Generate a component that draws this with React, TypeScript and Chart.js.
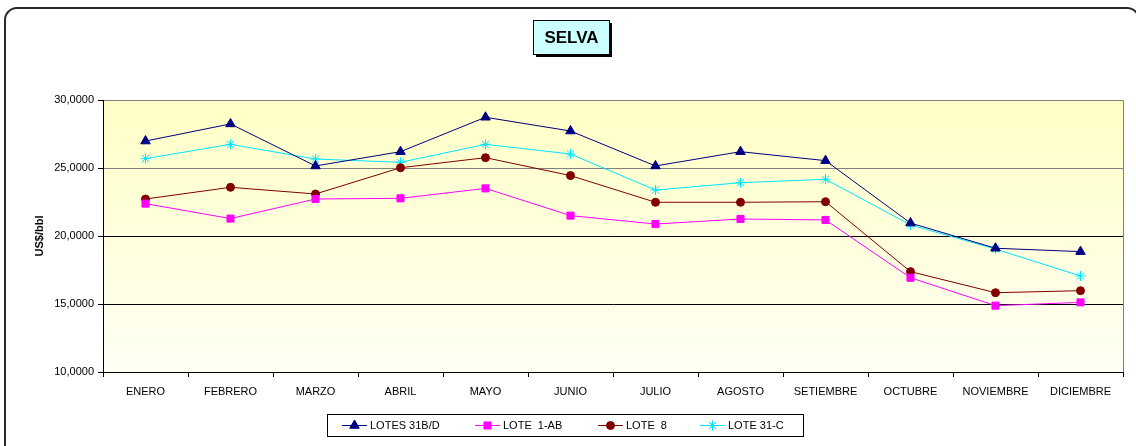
import React, { useEffect, useRef } from "react";
import { Chart, registerables } from "chart.js";
import { drawPoint } from "chart.js/helpers";

Chart.register(...registerables);

const months = ["ENERO", "FEBRERO", "MARZO", "ABRIL", "MAYO", "JUNIO", "JULIO", "AGOSTO", "SETIEMBRE", "OCTUBRE", "NOVIEMBRE", "DICIEMBRE"];
const lotes31BD = [26.98, 28.24, 25.15, 26.2, 28.73, 27.72, 25.15, 26.2, 25.54, 20.95, 19.1, 18.85];
const lote1AB = [22.38, 21.28, 22.72, 22.77, 23.5, 21.5, 20.88, 21.25, 21.18, 16.93, 14.88, 15.12];
const lote8 = [22.72, 23.58, 23.09, 25.02, 25.76, 24.44, 22.48, 22.48, 22.52, 17.38, 15.83, 15.98];
const lote31C = [25.69, 26.74, 25.66, 25.42, 26.74, 26.03, 23.38, 23.92, 24.17, 20.81, 19.04, 17.06];
const seriesNames = ["LOTES 31B/D", "LOTE  1-AB", "LOTE  8", "LOTE 31-C"];
const yTicks = [10, 15, 20, 25, 30];
const titleText = "SELVA";
const yTitle = "US$/bbl";

const FONT = "'Liberation Sans', Arial, sans-serif";

const decorPlugin = {
  id: "decor",
  beforeDraw(chart: any) {
    const { ctx, chartArea } = chart;
    ctx.save();
    ctx.fillStyle = "#ffffff";
    ctx.fillRect(0, 0, chart.width, chart.height);
    // outer frame
    ctx.strokeStyle = "#2b2b2b";
    ctx.lineWidth = 2;
    const x0 = 5, y0 = 8, x1 = 1139, y1 = 458, r = 12;
    ctx.beginPath();
    ctx.moveTo(x0 + r, y0);
    ctx.lineTo(x1 - r, y0);
    ctx.arcTo(x1, y0, x1, y0 + r, r);
    ctx.lineTo(x1, y1 - r);
    ctx.arcTo(x1, y1, x1 - r, y1, r);
    ctx.lineTo(x0 + r, y1);
    ctx.arcTo(x0, y1, x0, y1 - r, r);
    ctx.lineTo(x0, y0 + r);
    ctx.arcTo(x0, y0, x0 + r, y0, r);
    ctx.stroke();
    // plot background gradient
    const g = ctx.createLinearGradient(0, chartArea.top, 0, chartArea.bottom);
    g.addColorStop(0, "#ffffc6");
    g.addColorStop(1, "#fffff4");
    ctx.fillStyle = g;
    ctx.fillRect(chartArea.left, chartArea.top, chartArea.right - chartArea.left, chartArea.bottom - chartArea.top);
    // top & right border
    ctx.strokeStyle = "#808080";
    ctx.lineWidth = 1;
    ctx.beginPath();
    ctx.moveTo(chartArea.left, chartArea.top + 0.5);
    ctx.lineTo(chartArea.right + 0.5, chartArea.top + 0.5);
    ctx.lineTo(chartArea.right + 0.5, chartArea.bottom);
    ctx.stroke();
    ctx.restore();
  },
  afterDraw(chart: any) {
    const { ctx } = chart;
    ctx.save();
    // title box
    const bx = 533, by = 20, bw = 76, bh = 34;
    ctx.fillStyle = "#000000";
    ctx.fillRect(bx + 3, by + 3, bw, bh);
    ctx.fillStyle = "#ccffff";
    ctx.fillRect(bx, by, bw, bh);
    ctx.strokeStyle = "#000000";
    ctx.lineWidth = 1;
    ctx.strokeRect(bx + 0.5, by + 0.5, bw, bh);
    ctx.fillStyle = "#000000";
    ctx.font = `bold 17px ${FONT}`;
    ctx.textAlign = "center";
    ctx.textBaseline = "middle";
    ctx.fillText(titleText, bx + bw / 2 + 0.5, by + bh / 2 + 1);
    // legend
    const lx = 327, ly = 414, lw = 476, lh = 22;
    ctx.fillStyle = "#ffffff";
    ctx.fillRect(lx, ly, lw, lh);
    ctx.strokeStyle = "#000000";
    ctx.strokeRect(lx + 0.5, ly + 0.5, lw, lh);
    const starts = [342, 475, 598, 700];
    const cy = ly + lh / 2 + 0.5;
    chart.data.datasets.forEach((ds: any, i: number) => {
      const sx = starts[i];
      ctx.strokeStyle = ds.borderColor;
      ctx.lineWidth = 1;
      ctx.beginPath();
      ctx.moveTo(sx, cy);
      ctx.lineTo(sx + 25, cy);
      ctx.stroke();
      ctx.fillStyle = ds.pointBackgroundColor;
      ctx.strokeStyle = ds.pointBorderColor;
      drawPoint(ctx, { pointStyle: ds.pointStyle, radius: ds.pointRadius, borderWidth: 1, rotation: 0 }, sx + 12.5, cy);
      ctx.fillStyle = "#000000";
      ctx.font = `11px ${FONT}`;
      ctx.textAlign = "left";
      ctx.textBaseline = "middle";
      ctx.fillText(ds.label, sx + 28, cy);
    });
    ctx.restore();
  },
};

export default function App() {
  const ref = useRef<HTMLCanvasElement>(null);
  useEffect(() => {
    document.body.style.margin = "0";
    document.body.style.overflow = "hidden";
    const mk = (label: string, data: number[], color: string, style: string, radius: number) => ({
      label,
      data,
      borderColor: color,
      backgroundColor: color,
      pointBackgroundColor: color,
      pointBorderColor: color,
      pointStyle: style,
      pointRadius: radius,
      pointBorderWidth: 1,
      borderWidth: 1,
      tension: 0,
    });
    const chart = new Chart(ref.current!, {
      type: "line",
      data: {
        labels: months,
        datasets: [
          mk(seriesNames[0], lotes31BD, "#000080", "triangle", 5.5),
          mk(seriesNames[1], lote1AB, "#ff00ff", "rect", 5),
          mk(seriesNames[2], lote8, "#800000", "circle", 4),
          mk(seriesNames[3], lote31C, "#00e5ff", "star", 5),
        ],
      },
      options: {
        animation: false,
        responsive: false,
        maintainAspectRatio: false,
        layout: { padding: { left: 33, right: 13, top: 100, bottom: 0 } },
        plugins: { legend: { display: false }, title: { display: false }, tooltip: { enabled: false } },
        scales: {
          x: {
            type: "category",
            offset: true,
            grid: { offset: true, drawOnChartArea: false, color: "#000000", tickLength: 5, tickColor: "#000000" },
            border: { color: "#000000", width: 1 },
            ticks: { color: "#000000", font: { family: FONT, size: 11 }, padding: 8, maxRotation: 0, autoSkip: false },
            afterFit: (s: any) => { s.height = 74; },
          },
          y: {
            min: 10,
            max: 30,
            afterBuildTicks: (s: any) => { s.ticks = yTicks.map((v) => ({ value: v })); },
            grid: {
              color: (c: any) => (c.tick && (c.tick.value === 25 || c.tick.value === 30) ? "#808080" : c.tick && c.tick.value === 10 ? "rgba(0,0,0,0)" : "#000000"),
              tickColor: "#000000",
              tickLength: 5,
            },
            border: { color: "#000000", width: 1 },
            ticks: {
              color: "#000000",
              font: { family: FONT, size: 11 },
              padding: 4,
              callback: (v: any) => Number(v).toFixed(4).replace(".", ","),
            },
            title: { display: true, text: yTitle, color: "#000000", font: { family: FONT, size: 11, weight: "bold" }, padding: 0 },
            afterFit: (s: any) => { s.width = 70; },
          },
        },
      },
      plugins: [decorPlugin],
    });
    return () => chart.destroy();
  }, []);
  return (
    <div style={{ width: 1136, height: 446 }}>
      <canvas ref={ref} width={1136} height={446} style={{ display: "block" }} />
    </div>
  );
}
